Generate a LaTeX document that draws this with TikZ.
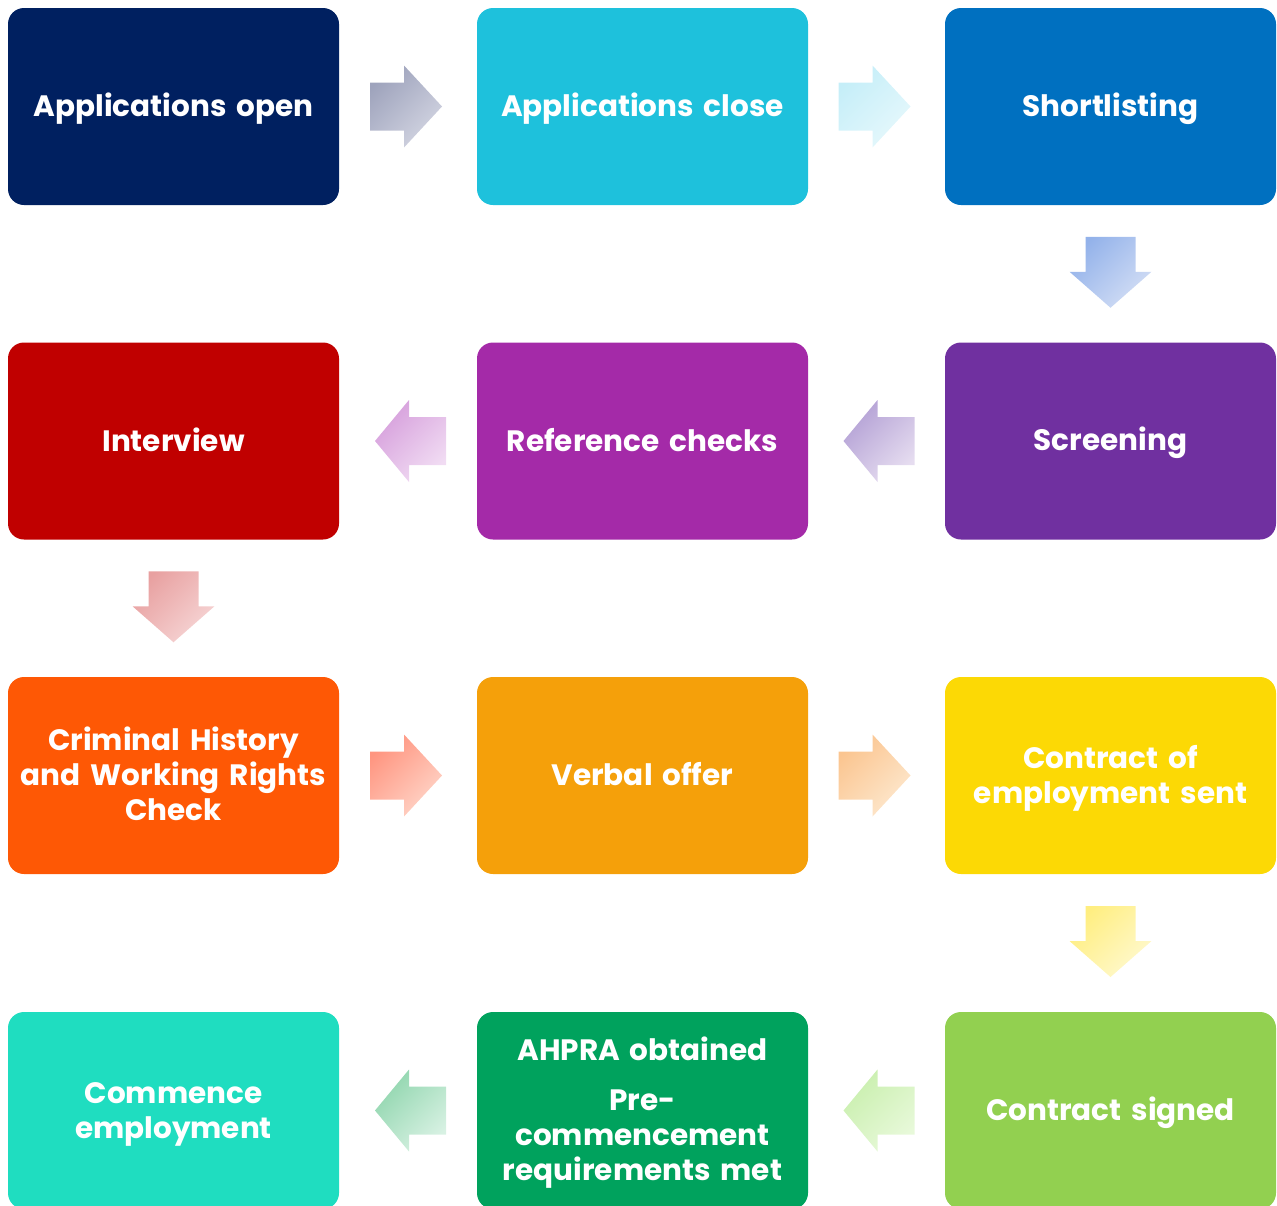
\documentclass[tikz,border=0pt]{standalone}
\usepackage{fontspec}
\setmainfont{Poppins}
\usetikzlibrary{calc}
\definecolor{cA}{HTML}{002060}
\definecolor{cB}{HTML}{1EC1DC}
\definecolor{cC}{HTML}{0070C0}
\definecolor{cD}{HTML}{7030A0}
\definecolor{cE}{HTML}{A42AA8}
\definecolor{cF}{HTML}{C00000}
\definecolor{cG}{HTML}{FE5805}
\definecolor{cH}{HTML}{F5A00A}
\definecolor{cI}{HTML}{FCD905}
\definecolor{cJ}{HTML}{92D050}
\definecolor{cK}{HTML}{00A25D}
\definecolor{cL}{HTML}{1FDDC0}
\definecolor{a1d}{HTML}{9EA3BC}\definecolor{a1l}{HTML}{D3D5E2}
\definecolor{a2d}{HTML}{C5EEF8}\definecolor{a2l}{HTML}{E6F8FC}
\definecolor{a3d}{HTML}{93B2EA}\definecolor{a3l}{HTML}{D3DEF5}
\definecolor{a4d}{HTML}{B3A0D5}\definecolor{a4l}{HTML}{E6DDF0}
\definecolor{a5d}{HTML}{D69FDC}\definecolor{a5l}{HTML}{F1DCF3}
\definecolor{a6d}{HTML}{E8A0A0}\definecolor{a6l}{HTML}{F6D5D5}
\definecolor{a7d}{HTML}{FF9580}\definecolor{a7l}{HTML}{FFD5C8}
\definecolor{a8d}{HTML}{FBC590}\definecolor{a8l}{HTML}{FDE8CE}
\definecolor{a9d}{HTML}{FFEE80}\definecolor{a9l}{HTML}{FFF9CE}
\definecolor{a10d}{HTML}{C9EFAE}\definecolor{a10l}{HTML}{E8F9DA}
\definecolor{a11d}{HTML}{90D6AE}\definecolor{a11l}{HTML}{D8F1E3}
\newcommand\myrarrow[4]{%
  \begin{scope}[shift={($(#1.east)!.5!(#2.west)$)}]
  \shade[top color=#3, bottom color=#4, shading angle=45]
    (-38,-24) -- (-4,-24) -- (-4,-41) -- (34,0) -- (-4,41) -- (-4,24) -- (-38,24) -- cycle;
  \end{scope}}
\newcommand\mylarrow[4]{%
  \begin{scope}[shift={($(#1.west)!.5!(#2.east)$)}]
  \shade[top color=#3, bottom color=#4, shading angle=45]
    (38,-24) -- (1,-24) -- (1,-41) -- (-33,0) -- (1,41) -- (1,24) -- (38,24) -- cycle;
  \end{scope}}
\newcommand\mydarrow[4]{%
  \begin{scope}[shift={($(#1.south)!.5!(#2.north)$)}]
  \shade[top color=#3, bottom color=#4, shading angle=45]
    (-25,-37) -- (25,-37) -- (25,-2) -- (41,-2) -- (0,34) -- (-41,-2) -- (-25,-2) -- cycle;
  \end{scope}}
\begin{document}
\begin{tikzpicture}[x=1pt,y=-1pt,
  box/.style={rounded corners=16pt, minimum width=331pt, minimum height=197pt,
    text width=320pt, align=center, text=white, inner sep=0pt,
    font=\fontsize{29.5}{35}\selectfont\bfseries,
    execute at begin node={\rule{0pt}{28pt}},
    execute at end node={\rule[-7.4pt]{0pt}{7.4pt}}}]
\clip (0,0) rectangle (1277,1205);
\node[box, fill=cA] (n1) at (173.5,106.5) {Applications open};
\node[box, fill=cB] (n2) at (642.5,106.5) {Applications close};
\node[box, fill=cC] (n3) at (1110.5,106.5) {Shortlisting};
\node[box, fill=cD] (n4) at (1110.5,441) {Screening};
\node[box, fill=cE] (n5) at (642.5,441) {Reference checks};
\node[box, fill=cF] (n6) at (173.5,441) {Interview};
\node[box, fill=cG] (n7) at (173.5,775.5) {Criminal History\\and Working Rights\\Check};
\node[box, fill=cH] (n8) at (642.5,775.5) {Verbal offer};
\node[box, fill=cI] (n9) at (1110.5,775.5) {Contract of\\employment sent};
\node[box, fill=cJ] (n10) at (1110.5,1110.5) {Contract signed};
\node[box, fill=cK] (n11) at (642.5,1110.5) {AHPRA obtained\\[15pt]Pre-\\commencement\\requirements met};
\node[box, fill=cL] (n12) at (173.5,1110.5) {Commence\\employment};
\myrarrow{n1}{n2}{a1d}{a1l}
\myrarrow{n2}{n3}{a2d}{a2l}
\mydarrow{n3}{n4}{a3d}{a3l}
\mylarrow{n4}{n5}{a4d}{a4l}
\mylarrow{n5}{n6}{a5d}{a5l}
\mydarrow{n6}{n7}{a6d}{a6l}
\myrarrow{n7}{n8}{a7d}{a7l}
\myrarrow{n8}{n9}{a8d}{a8l}
\mydarrow{n9}{n10}{a9d}{a9l}
\mylarrow{n10}{n11}{a10d}{a10l}
\mylarrow{n11}{n12}{a11d}{a11l}
\end{tikzpicture}
\end{document}
